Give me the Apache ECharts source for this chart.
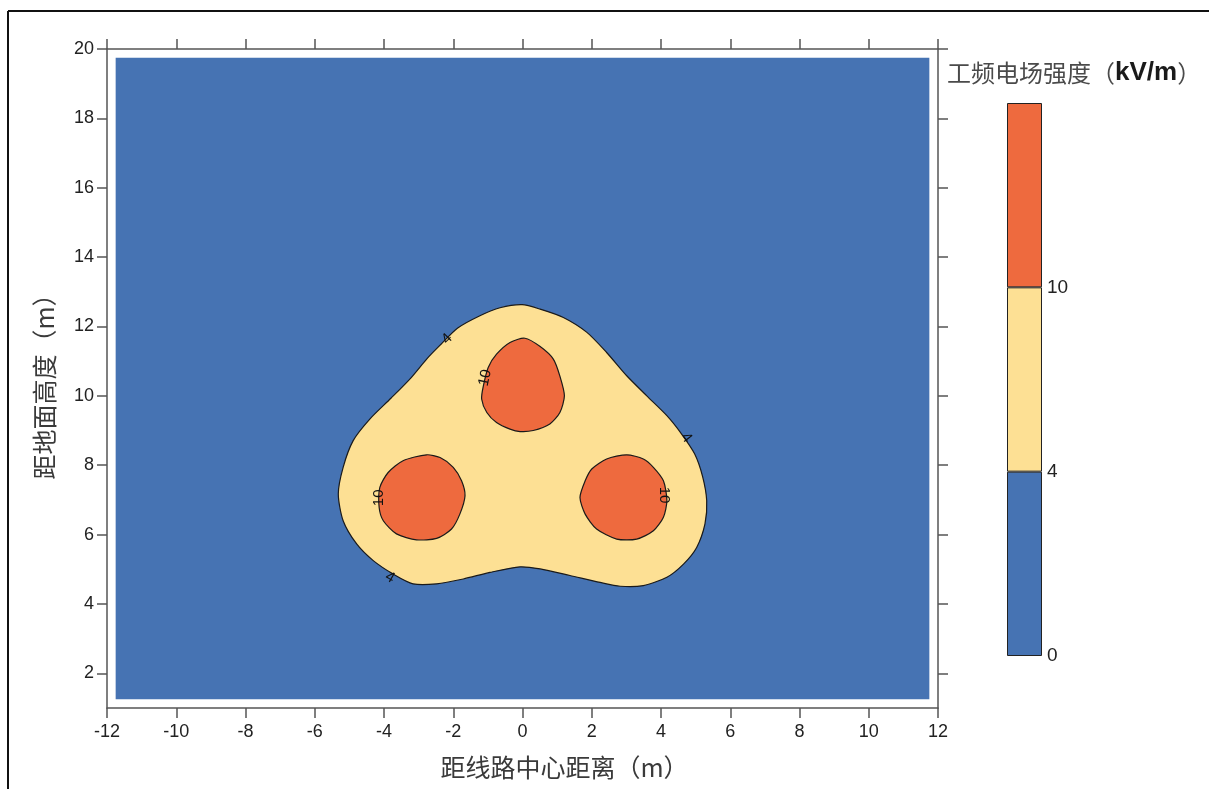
<!DOCTYPE html>
<html>
<head>
<meta charset="utf-8">
<script src="https://cdn.jsdelivr.net/npm/echarts@6/dist/echarts.min.js"></script>
<style>
html,body{margin:0;padding:0;background:#fff;}
#chart{width:1209px;height:789px;}
</style>
</head>
<body>
<div id="chart"></div>
<script>
// ---------- data ----------
const xTickLabels = [-12,-10,-8,-6,-4,-2,0,2,4,6,8,10,12];
const yTickValues = [2,4,6,8,10,12,14,16,18,20];
const levelLabels = ['0','4','10'];
const levelColors = ['#4673B3','#FDE094','#EE6A3E'];

// computed domain of the field (x from -11.75 to 11.75, y from 1.25 to 19.75)
const fieldDomain = [[-11.75,1.25],[11.75,19.75]];

// contour E = 4 kV/m (outer boundary), traced clockwise
const contour4 = [
  [-0.01,12.63],[0.51,12.50],[1.18,12.26],[1.86,11.83],[2.43,11.25],[3.01,10.58],
  [3.59,10.00],[4.17,9.43],[4.58,8.92],[4.97,8.33],[5.20,7.68],[5.32,6.98],
  [5.27,6.31],[5.03,5.63],[4.65,5.15],[4.17,4.77],[3.49,4.53],[2.82,4.51],
  [2.24,4.62],[1.37,4.82],[0.51,5.01],[-0.07,5.07],[-0.94,4.91],[-1.71,4.72],
  [-2.48,4.58],[-3.16,4.58],[-3.73,4.86],[-4.31,5.25],[-4.79,5.73],[-5.18,6.40],
  [-5.32,7.17],[-5.18,7.94],[-4.89,8.71],[-4.41,9.33],[-3.80,9.93],[-3.22,10.52],
  [-2.75,11.08],[-2.36,11.48],[-1.88,11.95],[-1.23,12.31],[-0.65,12.54]
];
// contours E = 10 kV/m around the three conductors
const contour10Top = [
  [0.07,11.66],[0.51,11.42],[0.89,11.06],[1.08,10.57],[1.21,10.00],[1.08,9.52],
  [0.79,9.19],[0.31,9.00],[-0.07,8.97],[-0.36,9.04],[-0.75,9.23],[-1.03,9.52],
  [-1.18,9.91],[-1.13,10.29],[-0.99,10.82],[-0.75,11.20],[-0.36,11.54]
];
const contour10Left = [
  [-2.77,8.30],[-2.38,8.22],[-2.00,7.94],[-1.76,7.55],[-1.66,7.12],[-1.81,6.59],
  [-2.05,6.16],[-2.48,5.89],[-3.06,5.85],[-3.64,6.02],[-4.02,6.40],[-4.14,6.78],
  [-4.12,7.36],[-3.88,7.79],[-3.45,8.13]
];
const contour10Right = [
  [3.01,8.30],[3.49,8.18],[3.78,7.94],[4.07,7.55],[4.17,6.98],[4.07,6.50],
  [3.78,6.11],[3.30,5.87],[2.72,5.87],[2.14,6.16],[1.81,6.59],[1.66,7.07],
  [1.81,7.55],[2.00,7.89],[2.43,8.18]
];
// contour labels: [x, y, text, angle]
const contourLabels = [
  [-2.18,11.64,'4',45],
  [4.73,8.79,'4',-52],
  [-3.83,4.76,'4',-30],
  [-1.08,10.52,'10',78],
  [-4.15,7.06,'10',90],
  [4.09,7.14,'10',-90]
];
const levelBands = [1,1,1];

// ---------- chart ----------
const contours = [
  {pts: contour4, level: 1},
  {pts: contour10Top, level: 2},
  {pts: contour10Left, level: 2},
  {pts: contour10Right, level: 2}
];

const FONT = "'Liberation Sans', Arial, 'Noto Sans CJK SC', sans-serif";
const CJK = "'Noto Sans CJK SC', sans-serif";
const axisColor = '#555';

const chart = echarts.init(document.getElementById('chart'), null, {renderer:'canvas'});

const option = {
  animation: false,
  backgroundColor: '#fff',
  title: {
    text: '{a|工频电场强度（}{b|kV/m}{a|）}',
    left: 942, top: 55,
    textStyle: {
      fontWeight: 'normal',
      rich: {
        a: {fontSize: 24, color: '#4a4a4a', fontWeight: 'normal', fontFamily: CJK},
        b: {fontSize: 26, color: '#1a1a1a', fontWeight: 'bold', fontFamily: FONT}
      }
    }
  },
  graphic: [
    {type:'line', shape:{x1:8,y1:11,x2:1209,y2:11}, style:{stroke:'#111', lineWidth:2}, silent:true},
    {type:'line', shape:{x1:8,y1:11,x2:8,y2:789}, style:{stroke:'#111', lineWidth:2}, silent:true}
  ],
  grid: [
    {left:107, right:271, top:49, bottom:81, containLabel:false},
    {left:1007, top:103, width:35, height:553, containLabel:false}
  ],
  xAxis: [
    {
      type:'value', gridIndex:0, min:-12, max:12, interval:2, position:'bottom',
      name:'距线路中心距离（m）', nameLocation:'middle', nameGap:47,
      nameTextStyle:{fontSize:25, color:'#3a3a3a', fontFamily:CJK, padding:[0,0,0,84]},
      axisLine:{show:true, onZero:false, lineStyle:{color:axisColor, width:1.5}},
      axisTick:{show:true, inside:false, length:10, lineStyle:{color:axisColor, width:1.5}},
      axisLabel:{show:true, margin:15, fontSize:18, color:'#222', fontFamily:FONT,
        formatter: v => String(v)},
      splitLine:{show:false}
    },
    {
      type:'value', gridIndex:0, min:-12, max:12, interval:2, position:'top',
      axisLine:{show:true, onZero:false, lineStyle:{color:axisColor, width:1.5}},
      axisTick:{show:true, inside:false, length:10, lineStyle:{color:axisColor, width:1.5}},
      axisLabel:{show:false},
      splitLine:{show:false}
    },
    {
      type:'category', gridIndex:1, data:['E'], show:false
    }
  ],
  yAxis: [
    {
      type:'value', gridIndex:0, min:1, max:20, position:'left',
      name:'距地面高度（m）', nameLocation:'middle', nameGap:50, nameRotate:90,
      nameTextStyle:{fontSize:25, color:'#3a3a3a', fontFamily:CJK, padding:[0,4,0,0]},
      axisLine:{show:true, onZero:false, lineStyle:{color:axisColor, width:1.5}},
      axisTick:{show:true, inside:false, length:10, customValues:yTickValues, lineStyle:{color:axisColor, width:1.5}},
      axisLabel:{show:true, margin:13, fontSize:18, color:'#222', fontFamily:FONT, customValues:yTickValues},
      splitLine:{show:false}
    },
    {
      type:'value', gridIndex:0, min:1, max:20, position:'right',
      axisLine:{show:true, onZero:false, lineStyle:{color:axisColor, width:1.5}},
      axisTick:{show:true, inside:false, length:10, customValues:yTickValues, lineStyle:{color:axisColor, width:1.5}},
      axisLabel:{show:false},
      splitLine:{show:false}
    },
    {
      type:'value', gridIndex:1, min:0, max:3, interval:1, position:'right',
      axisLine:{show:false}, axisTick:{show:false}, splitLine:{show:false},
      axisLabel:{show:true, margin:5, fontSize:19, color:'#222', fontFamily:FONT,
        formatter: v => (levelLabels[v] !== undefined ? levelLabels[v] : '')}
    }
  ],
  series: [
    {
      type:'custom', xAxisIndex:0, yAxisIndex:0, silent:true, z:1,
      data:[[0]],
      renderItem: function(params, api){
        const a = api.coord(fieldDomain[0]);
        const b = api.coord(fieldDomain[1]);
        return {type:'rect', shape:{x:a[0], y:b[1], width:b[0]-a[0], height:a[1]-b[1]},
          style:{fill:levelColors[0]}};
      }
    },
    {
      type:'custom', xAxisIndex:0, yAxisIndex:0, silent:true, z:2,
      data: contours.map((c,i)=>[i]),
      renderItem: function(params, api){
        const c = contours[params.dataIndex];
        const pts = c.pts.map(p => api.coord(p));
        return {type:'polygon', shape:{points:pts, smooth:0.25},
          style:{fill:levelColors[c.level], stroke:'#1a1a1a', lineWidth:1.2}};
      }
    },
    {
      type:'custom', xAxisIndex:0, yAxisIndex:0, silent:true, z:3,
      data: contourLabels.map((l,i)=>[l[0], l[1], i]),
      renderItem: function(params, api){
        const l = contourLabels[params.dataIndex];
        const p = api.coord([l[0], l[1]]);
        return {type:'text', x:p[0], y:p[1], rotation: l[3]*Math.PI/180,
          style:{text:l[2], fontSize:15, fill:'#111', fontFamily:FONT, align:'center', verticalAlign:'middle'}};
      }
    },
    {type:'bar', xAxisIndex:2, yAxisIndex:2, stack:'cb', data:[levelBands[0]], barWidth:'100%',
      itemStyle:{color:levelColors[0], borderColor:'#222', borderWidth:1}, silent:true},
    {type:'bar', xAxisIndex:2, yAxisIndex:2, stack:'cb', data:[levelBands[1]], barWidth:'100%',
      itemStyle:{color:levelColors[1], borderColor:'#222', borderWidth:1}, silent:true},
    {type:'bar', xAxisIndex:2, yAxisIndex:2, stack:'cb', data:[levelBands[2]], barWidth:'100%',
      itemStyle:{color:levelColors[2], borderColor:'#222', borderWidth:1}, silent:true}
  ]
};
chart.setOption(option);
</script>
</body>
</html>
